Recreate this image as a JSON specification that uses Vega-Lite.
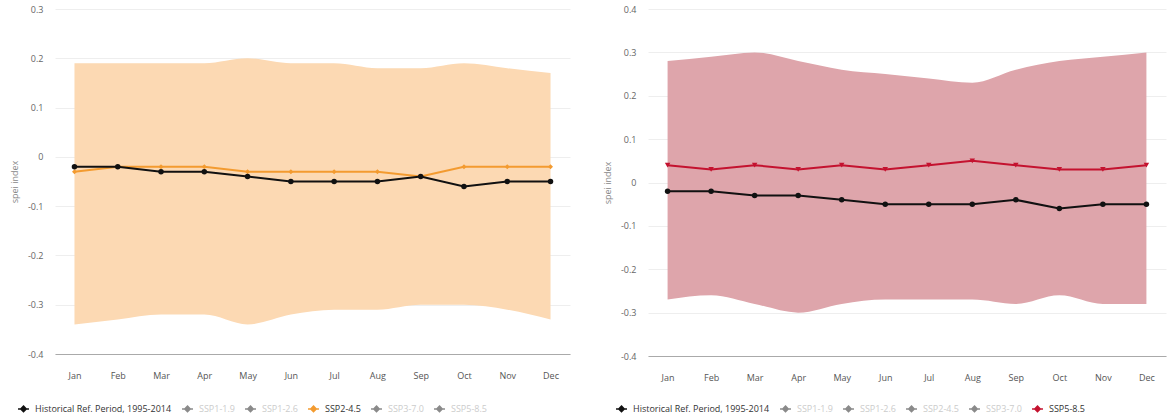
{
  "$schema": "https://vega.github.io/schema/vega-lite/v6.json",
  "padding": {"left": 10, "top": 5, "right": 5, "bottom": 5},
  "background": "white",
  "config": {
    "font": "Open Sans",
    "view": {"stroke": null},
    "axisY": {"grid": true, "gridColor": "#eeeeee", "domain": false, "ticks": false, "labelFontSize": 9, "labelColor": "#666666", "labelPadding": 12, "titleFontSize": 9, "titleFontWeight": "normal", "titleColor": "#888888", "titlePadding": 8},
    "axisX": {"grid": false, "domain": true, "domainColor": "#aaaaaa", "ticks": false, "labelFontSize": 9, "labelColor": "#555555", "labelPadding": 17, "labelAngle": 0}
  },
  "datasets": {
    "leftLines": [
      {"month": "Jan", "series": "SSP2-4.5", "value": -0.03},
      {"month": "Feb", "series": "SSP2-4.5", "value": -0.02},
      {"month": "Mar", "series": "SSP2-4.5", "value": -0.02},
      {"month": "Apr", "series": "SSP2-4.5", "value": -0.02},
      {"month": "May", "series": "SSP2-4.5", "value": -0.03},
      {"month": "Jun", "series": "SSP2-4.5", "value": -0.03},
      {"month": "Jul", "series": "SSP2-4.5", "value": -0.03},
      {"month": "Aug", "series": "SSP2-4.5", "value": -0.03},
      {"month": "Sep", "series": "SSP2-4.5", "value": -0.04},
      {"month": "Oct", "series": "SSP2-4.5", "value": -0.02},
      {"month": "Nov", "series": "SSP2-4.5", "value": -0.02},
      {"month": "Dec", "series": "SSP2-4.5", "value": -0.02},
      {"month": "Jan", "series": "Historical Ref. Period, 1995-2014", "value": -0.02},
      {"month": "Feb", "series": "Historical Ref. Period, 1995-2014", "value": -0.02},
      {"month": "Mar", "series": "Historical Ref. Period, 1995-2014", "value": -0.03},
      {"month": "Apr", "series": "Historical Ref. Period, 1995-2014", "value": -0.03},
      {"month": "May", "series": "Historical Ref. Period, 1995-2014", "value": -0.04},
      {"month": "Jun", "series": "Historical Ref. Period, 1995-2014", "value": -0.05},
      {"month": "Jul", "series": "Historical Ref. Period, 1995-2014", "value": -0.05},
      {"month": "Aug", "series": "Historical Ref. Period, 1995-2014", "value": -0.05},
      {"month": "Sep", "series": "Historical Ref. Period, 1995-2014", "value": -0.04},
      {"month": "Oct", "series": "Historical Ref. Period, 1995-2014", "value": -0.06},
      {"month": "Nov", "series": "Historical Ref. Period, 1995-2014", "value": -0.05},
      {"month": "Dec", "series": "Historical Ref. Period, 1995-2014", "value": -0.05}
    ],
    "leftBand": [
      {"month": "Jan", "lo": -0.34, "hi": 0.19},
      {"month": "Feb", "lo": -0.33, "hi": 0.19},
      {"month": "Mar", "lo": -0.32, "hi": 0.19},
      {"month": "Apr", "lo": -0.32, "hi": 0.19},
      {"month": "May", "lo": -0.34, "hi": 0.20},
      {"month": "Jun", "lo": -0.32, "hi": 0.19},
      {"month": "Jul", "lo": -0.31, "hi": 0.19},
      {"month": "Aug", "lo": -0.31, "hi": 0.18},
      {"month": "Sep", "lo": -0.30, "hi": 0.18},
      {"month": "Oct", "lo": -0.30, "hi": 0.19},
      {"month": "Nov", "lo": -0.31, "hi": 0.18},
      {"month": "Dec", "lo": -0.33, "hi": 0.17}
    ],
    "rightLines": [
      {"month": "Jan", "series": "SSP5-8.5", "value": 0.04},
      {"month": "Feb", "series": "SSP5-8.5", "value": 0.03},
      {"month": "Mar", "series": "SSP5-8.5", "value": 0.04},
      {"month": "Apr", "series": "SSP5-8.5", "value": 0.03},
      {"month": "May", "series": "SSP5-8.5", "value": 0.04},
      {"month": "Jun", "series": "SSP5-8.5", "value": 0.03},
      {"month": "Jul", "series": "SSP5-8.5", "value": 0.04},
      {"month": "Aug", "series": "SSP5-8.5", "value": 0.05},
      {"month": "Sep", "series": "SSP5-8.5", "value": 0.04},
      {"month": "Oct", "series": "SSP5-8.5", "value": 0.03},
      {"month": "Nov", "series": "SSP5-8.5", "value": 0.03},
      {"month": "Dec", "series": "SSP5-8.5", "value": 0.04},
      {"month": "Jan", "series": "Historical Ref. Period, 1995-2014", "value": -0.02},
      {"month": "Feb", "series": "Historical Ref. Period, 1995-2014", "value": -0.02},
      {"month": "Mar", "series": "Historical Ref. Period, 1995-2014", "value": -0.03},
      {"month": "Apr", "series": "Historical Ref. Period, 1995-2014", "value": -0.03},
      {"month": "May", "series": "Historical Ref. Period, 1995-2014", "value": -0.04},
      {"month": "Jun", "series": "Historical Ref. Period, 1995-2014", "value": -0.05},
      {"month": "Jul", "series": "Historical Ref. Period, 1995-2014", "value": -0.05},
      {"month": "Aug", "series": "Historical Ref. Period, 1995-2014", "value": -0.05},
      {"month": "Sep", "series": "Historical Ref. Period, 1995-2014", "value": -0.04},
      {"month": "Oct", "series": "Historical Ref. Period, 1995-2014", "value": -0.06},
      {"month": "Nov", "series": "Historical Ref. Period, 1995-2014", "value": -0.05},
      {"month": "Dec", "series": "Historical Ref. Period, 1995-2014", "value": -0.05}
    ],
    "rightBand": [
      {"month": "Jan", "lo": -0.27, "hi": 0.28},
      {"month": "Feb", "lo": -0.26, "hi": 0.29},
      {"month": "Mar", "lo": -0.28, "hi": 0.30},
      {"month": "Apr", "lo": -0.30, "hi": 0.28},
      {"month": "May", "lo": -0.28, "hi": 0.26},
      {"month": "Jun", "lo": -0.27, "hi": 0.25},
      {"month": "Jul", "lo": -0.27, "hi": 0.24},
      {"month": "Aug", "lo": -0.27, "hi": 0.23},
      {"month": "Sep", "lo": -0.28, "hi": 0.26},
      {"month": "Oct", "lo": -0.26, "hi": 0.28},
      {"month": "Nov", "lo": -0.28, "hi": 0.29},
      {"month": "Dec", "lo": -0.28, "hi": 0.30}
    ]
  },
  "hconcat": [
    {
      "width": 515,
      "height": 345,
      "encoding": {
        "x": {"field": "month", "type": "ordinal", "sort": ["Jan","Feb","Mar","Apr","May","Jun","Jul","Aug","Sep","Oct","Nov","Dec"], "scale": {"type": "point", "padding": 0.45}, "axis": {"title": null}}
      },
      "layer": [
        {
          "data": {"name": "leftBand"},
          "mark": {"type": "area", "interpolate": "monotone", "color": "#fcd9b3", "opacity": 1},
          "encoding": {
            "y": {"field": "lo", "type": "quantitative", "scale": {"domain": [-0.4, 0.3], "nice": false, "zero": false}, "axis": {"title": "spei index", "values": [-0.4,-0.3,-0.2,-0.1,0,0.1,0.2,0.3], "labelExpr": "datum.value == 0 ? '0' : (datum.value < 0 ? '-' : '') + format(abs(datum.value), '.1f')"}},
            "y2": {"field": "hi"}
          }
        },
        {
          "data": {"name": "leftLines"},
          "transform": [{"filter": "datum.series == 'SSP2-4.5'"}],
          "mark": {"type": "line", "strokeWidth": 2},
          "encoding": {
            "y": {"field": "value", "type": "quantitative"},
            "color": {"field": "series", "type": "nominal", "scale": {"domain": ["Historical Ref. Period, 1995-2014","SSP1-1.9","SSP1-2.6","SSP2-4.5","SSP3-7.0","SSP5-8.5"], "range": ["#111111","#8a8a8a","#8a8a8a","#f39b30","#8a8a8a","#8a8a8a"]}, "legend": {"title": null, "orient": "none", "legendX": -38, "legendY": 393, "direction": "horizontal", "symbolType": "M-1,0L1,0M0,-0.5L0.5,0L0,0.5L-0.5,0Z", "symbolSize": 120, "symbolStrokeWidth": 1.5, "labelFontSize": 9, "columnPadding": 7, "labelOffset": 5, "encode": {"labels": {"update": {"fill": {"signal": "indexof(['Historical Ref. Period, 1995-2014','SSP2-4.5'], datum.value) >= 0 ? '#333333' : '#cccccc'"}}}}}}
          }
        },
        {
          "data": {"name": "leftLines"},
          "transform": [{"filter": "datum.series == 'SSP2-4.5'"}],
          "mark": {"type": "point", "shape": "diamond", "filled": true, "size": 25, "opacity": 1},
          "encoding": {
            "y": {"field": "value", "type": "quantitative"},
            "color": {"field": "series", "type": "nominal"}
          }
        },
        {
          "data": {"name": "leftLines"},
          "transform": [{"filter": "datum.series == 'Historical Ref. Period, 1995-2014'"}],
          "mark": {"type": "line", "strokeWidth": 2},
          "encoding": {
            "y": {"field": "value", "type": "quantitative"},
            "color": {"field": "series", "type": "nominal"}
          }
        },
        {
          "data": {"name": "leftLines"},
          "transform": [{"filter": "datum.series == 'Historical Ref. Period, 1995-2014'"}],
          "mark": {"type": "point", "shape": "circle", "filled": true, "size": 30, "opacity": 1},
          "encoding": {
            "y": {"field": "value", "type": "quantitative"},
            "color": {"field": "series", "type": "nominal"}
          }
        }
      ]
    },
    {
      "width": 518,
      "height": 347,
      "encoding": {
        "x": {"field": "month", "type": "ordinal", "sort": ["Jan","Feb","Mar","Apr","May","Jun","Jul","Aug","Sep","Oct","Nov","Dec"], "scale": {"type": "point", "padding": 0.45}, "axis": {"title": null}}
      },
      "layer": [
        {
          "data": {"name": "rightBand"},
          "mark": {"type": "area", "interpolate": "monotone", "color": "#dea5ab", "opacity": 1},
          "encoding": {
            "y": {"field": "lo", "type": "quantitative", "scale": {"domain": [-0.4, 0.4], "nice": false, "zero": false}, "axis": {"title": "spei index", "values": [-0.4,-0.3,-0.2,-0.1,0,0.1,0.2,0.3,0.4], "labelExpr": "datum.value == 0 ? '0' : (datum.value < 0 ? '-' : '') + format(abs(datum.value), '.1f')"}},
            "y2": {"field": "hi"}
          }
        },
        {
          "data": {"name": "rightLines"},
          "transform": [{"filter": "datum.series == 'SSP5-8.5'"}],
          "mark": {"type": "line", "strokeWidth": 2},
          "encoding": {
            "y": {"field": "value", "type": "quantitative"},
            "color": {"field": "series", "type": "nominal", "scale": {"domain": ["Historical Ref. Period, 1995-2014","SSP1-1.9","SSP1-2.6","SSP2-4.5","SSP3-7.0","SSP5-8.5"], "range": ["#111111","#8a8a8a","#8a8a8a","#8a8a8a","#8a8a8a","#c4122f"]}, "legend": {"title": null, "orient": "none", "legendX": -33, "legendY": 393, "direction": "horizontal", "symbolType": "M-1,0L1,0M0,-0.5L0.5,0L0,0.5L-0.5,0Z", "symbolSize": 120, "symbolStrokeWidth": 1.5, "labelFontSize": 9, "columnPadding": 7, "labelOffset": 5, "encode": {"labels": {"update": {"fill": {"signal": "indexof(['Historical Ref. Period, 1995-2014','SSP5-8.5'], datum.value) >= 0 ? '#333333' : '#cccccc'"}}}}}}
          }
        },
        {
          "data": {"name": "rightLines"},
          "transform": [{"filter": "datum.series == 'SSP5-8.5'"}],
          "mark": {"type": "point", "shape": "triangle-down", "filled": true, "size": 30, "opacity": 1},
          "encoding": {
            "y": {"field": "value", "type": "quantitative"},
            "color": {"field": "series", "type": "nominal"}
          }
        },
        {
          "data": {"name": "rightLines"},
          "transform": [{"filter": "datum.series == 'Historical Ref. Period, 1995-2014'"}],
          "mark": {"type": "line", "strokeWidth": 2},
          "encoding": {
            "y": {"field": "value", "type": "quantitative"},
            "color": {"field": "series", "type": "nominal"}
          }
        },
        {
          "data": {"name": "rightLines"},
          "transform": [{"filter": "datum.series == 'Historical Ref. Period, 1995-2014'"}],
          "mark": {"type": "point", "shape": "circle", "filled": true, "size": 30, "opacity": 1},
          "encoding": {
            "y": {"field": "value", "type": "quantitative"},
            "color": {"field": "series", "type": "nominal"}
          }
        }
      ]
    }
  ],
  "spacing": 33,
  "resolve": {"scale": {"color": "independent", "y": "independent"}, "legend": {"color": "independent"}}
}
